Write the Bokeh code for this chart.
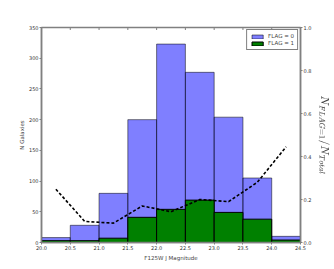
from bokeh.plotting import figure
from bokeh.models import Range1d, LinearAxis, FixedTicker, PrintfTickFormatter, Legend, LegendItem
from bokeh.embed import file_html
from bokeh.resources import INLINE

# Data
bin_edges = [20.0, 20.5, 21.0, 21.5, 22.0, 22.5, 23.0, 23.5, 24.0, 24.5]
n_flag0 = [8, 28, 80, 200, 323, 277, 204, 105, 10]
n_flag1 = [3, 3, 7, 41, 54, 69, 49, 38, 4]
bin_centers = [20.25, 20.75, 21.25, 21.75, 22.25, 22.75, 23.25, 23.75, 24.25]
ratio = [0.248, 0.098, 0.09, 0.17, 0.143, 0.2, 0.19, 0.28, 0.445]
x_ticks = [20.0, 20.5, 21.0, 21.5, 22.0, 22.5, 23.0, 23.5, 24.0, 24.5]
y_ticks = [0, 50, 100, 150, 200, 250, 300, 350]
r_ticks = [0.0, 0.2, 0.4, 0.6, 0.8, 1.0]
y_max = 350

FONT = "DejaVu Sans"
SPINE = "#808080"

p = figure(width=334, height=269, output_backend="svg", toolbar_location=None,
           x_range=Range1d(20.0, 24.5), y_range=Range1d(0, y_max),
           min_border_left=41, min_border_right=34, min_border_top=27, min_border_bottom=27)
p.grid.visible = False
p.outline_line_color = SPINE
p.outline_line_width = 1.5
p.background_fill_color = "white"
p.border_fill_color = "white"

p.extra_y_ranges = {"ratio": Range1d(0, 1)}

b0 = p.quad(left=bin_edges[:-1], right=bin_edges[1:], bottom=0, top=n_flag0,
            fill_color="#0000ff", fill_alpha=0.5, line_color="black", line_alpha=0.5, line_width=1)
b1 = p.quad(left=bin_edges[:-1], right=bin_edges[1:], bottom=0, top=n_flag1,
            fill_color="#008000", fill_alpha=1.0, line_color="black", line_width=1)
p.line(bin_centers, ratio, y_range_name="ratio", line_color="black", line_width=1.6,
       line_dash="3 2")

# inward tick marks along the top spine
tick_len = y_max * 2.5 / 215
p.segment(x0=x_ticks[1:-1], y0=[y_max] * (len(x_ticks) - 2),
          x1=x_ticks[1:-1], y1=[y_max - tick_len] * (len(x_ticks) - 2),
          line_color=SPINE, line_width=1)

def style_axis(ax):
    ax.axis_line_color = SPINE
    ax.axis_line_width = 1.5
    ax.major_tick_line_color = SPINE
    ax.major_tick_out = 2
    ax.major_tick_in = 0
    ax.minor_tick_line_color = None
    ax.major_label_text_font = FONT
    ax.major_label_text_font_size = "5px"
    ax.major_label_text_color = "#333333"
    ax.major_label_standoff = 1
    ax.axis_label_text_font = FONT
    ax.axis_label_text_font_size = "5.5px"
    ax.axis_label_text_font_style = "normal"
    ax.axis_label_standoff = 3

xa = p.xaxis[0]
style_axis(xa)
xa.ticker = FixedTicker(ticks=x_ticks)
xa.formatter = PrintfTickFormatter(format="%.1f")
xa.axis_label = "F125W J Magnitude"
xa.axis_label_standoff = 2

ya = p.yaxis[0]
style_axis(ya)
ya.ticker = FixedTicker(ticks=y_ticks)
ya.axis_label = "N Galaxies"
ya.axis_label_standoff = 1

ra = LinearAxis(y_range_name="ratio")
style_axis(ra)
ra.ticker = FixedTicker(ticks=r_ticks)
ra.formatter = PrintfTickFormatter(format="%.1f")
ra.axis_label = r"$$N_{FLAG=1}/N_{Total}$$"
ra.axis_label_text_font_size = "7.5px"
ra.axis_label_standoff = 4
p.add_layout(ra, "right")

legend = Legend(items=[LegendItem(label="FLAG = 0", renderers=[b0]),
                       LegendItem(label="FLAG = 1", renderers=[b1])],
                location="top_right")
legend.label_text_font = FONT
legend.label_text_font_size = "5.5px"
legend.label_height = 6
legend.glyph_height = 5
legend.glyph_width = 14
legend.spacing = 1
legend.padding = 3
legend.margin = 2
legend.label_standoff = 4
legend.border_line_color = "black"
legend.border_line_width = 0.8
legend.background_fill_alpha = 1
p.add_layout(legend)

open("out.html", "w").write(file_html(p, INLINE))
